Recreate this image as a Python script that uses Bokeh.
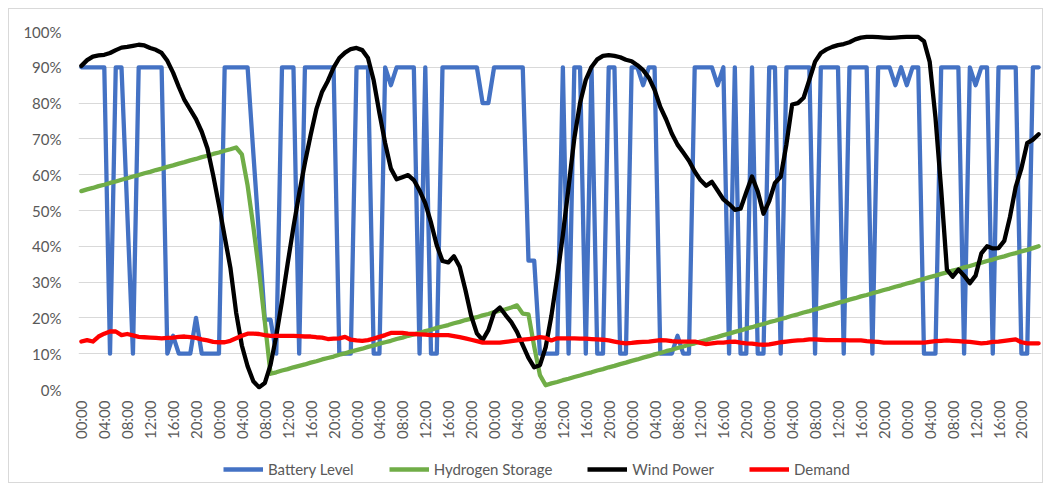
import math
from bokeh.plotting import figure
from bokeh.layouts import column
from bokeh.models import Range1d, FixedTicker, Legend, LegendItem
from bokeh.embed import file_html
from bokeh.resources import INLINE

# ---- data (percent, hourly over one week) ----
day_hours = ["00:00", "01:00", "02:00", "03:00", "04:00", "05:00", "06:00", "07:00",
             "08:00", "09:00", "10:00", "11:00", "12:00", "13:00", "14:00", "15:00",
             "16:00", "17:00", "18:00", "19:00", "20:00", "21:00", "22:00", "23:00"]
time_labels = day_hours * 7

battery_level = [
    90, 90, 90, 90, 90, 10, 90, 90, 50, 10, 90, 90,
    90, 90, 90, 10, 15, 10, 10, 10, 20, 10, 10, 10,
    10, 90, 90, 90, 90, 90, 66, 43, 19.5, 19.5, 10, 90,
    90, 90, 10, 90, 90, 90, 90, 90, 90, 10, 10, 10,
    90, 90, 90, 10, 10, 90, 85, 90, 90, 90, 90, 10,
    90, 10, 10, 90, 90, 90, 90, 90, 90, 90, 80, 80,
    90, 90, 90, 90, 90, 90, 36, 36, 10, 10, 10, 10,
    90, 10, 90, 90, 10, 90, 10, 10, 90, 90, 10, 10,
    90, 90, 85, 90, 90, 10, 10, 10, 15, 10, 10, 90,
    90, 90, 90, 85, 90, 10, 90, 10, 10, 90, 10, 10,
    90, 90, 10, 90, 90, 90, 90, 90, 10, 90, 90, 90,
    90, 10, 90, 90, 90, 90, 10, 90, 90, 90, 85, 90,
    85, 90, 90, 10, 10, 10, 90, 90, 90, 90, 10, 90,
    85, 90, 90, 10, 90, 90, 90, 90, 10, 10, 90, 90,
]

hydrogen_storage = [
    55.4, 55.9, 56.3, 56.8, 57.2, 57.7, 58.1, 58.6, 59.0, 59.5, 59.9, 60.4,
    60.8, 61.3, 61.7, 62.2, 62.6, 63.1, 63.5, 64.0, 64.4, 64.9, 65.3, 65.8,
    66.2, 66.7, 67.1, 67.6, 65.7, 57.0, 45.5, 33.0, 19.0, 4.4, 4.8, 5.3,
    5.7, 6.2, 6.6, 7.0, 7.5, 7.9, 8.4, 8.8, 9.2, 9.7, 10.1, 10.6,
    11.0, 11.4, 11.9, 12.3, 12.8, 13.2, 13.6, 14.1, 14.5, 15.0, 15.4, 15.8,
    16.3, 16.7, 17.2, 17.6, 18.0, 18.5, 18.9, 19.4, 19.8, 20.2, 20.7, 21.1,
    21.6, 22.0, 22.4, 22.9, 23.5, 21.2, 21.0, 12.0, 4.0, 1.2, 1.7, 2.1,
    2.6, 3.0, 3.5, 3.9, 4.4, 4.8, 5.3, 5.7, 6.2, 6.6, 7.1, 7.5,
    8.0, 8.4, 8.9, 9.3, 9.8, 10.2, 10.7, 11.1, 11.6, 12.0, 12.5, 12.9,
    13.4, 13.8, 14.3, 14.7, 15.2, 15.6, 16.1, 16.5, 17.0, 17.4, 17.9, 18.3,
    18.8, 19.2, 19.7, 20.1, 20.6, 21.0, 21.5, 21.9, 22.4, 22.8, 23.3, 23.7,
    24.2, 24.6, 25.1, 25.5, 26.0, 26.4, 26.9, 27.3, 27.8, 28.2, 28.7, 29.1,
    29.6, 30.0, 30.5, 30.9, 31.4, 31.8, 32.3, 32.7, 33.2, 33.6, 34.1, 34.5,
    35.0, 35.4, 35.9, 36.3, 36.8, 37.2, 37.7, 38.1, 38.6, 39.0, 39.5, 40.0,
]

wind_power = [
    90.4, 92.0, 93.0, 93.3, 93.5, 94.0, 94.8, 95.5, 95.7, 96.0, 96.3, 96.1,
    95.4, 94.9, 94.0, 91.8, 88.5, 84.5, 80.8, 78.2, 75.5, 72.0, 67.3, 59.8,
    51.5, 42.7, 34.0, 21.5, 12.3, 6.5, 2.3, 0.6, 1.8, 6.9, 15.0, 24.7,
    35.3, 45.4, 54.7, 63.3, 71.1, 78.3, 83.2, 86.2, 89.9, 92.6, 94.1, 95.1,
    95.4, 94.8, 92.6, 86.3, 77.2, 68.8, 61.7, 58.7, 59.3, 59.9, 58.5, 55.6,
    52.0, 46.6, 40.3, 35.9, 35.5, 37.2, 34.3, 27.8, 20.6, 15.7, 13.8, 16.6,
    21.5, 22.9, 20.8, 18.8, 16.1, 12.4, 8.8, 6.2, 6.8, 11.8, 20.6, 31.3,
    43.2, 56.6, 70.2, 80.0, 86.5, 90.1, 92.2, 93.2, 93.4, 93.2, 92.8, 92.1,
    91.7, 90.6, 89.2, 87.1, 83.7, 78.9, 75.5, 71.5, 68.4, 66.2, 63.9, 60.9,
    58.5, 56.9, 58.0, 55.6, 53.1, 51.8, 50.2, 50.5, 55.1, 59.5, 55.3, 49.1,
    52.6, 57.7, 59.4, 68.5, 79.6, 80.0, 81.5, 86.5, 91.6, 94.0, 95.0, 95.7,
    96.2, 96.5, 97.0, 97.8, 98.3, 98.5, 98.5, 98.4, 98.3, 98.2, 98.3, 98.4,
    98.5, 98.5, 98.5, 97.3, 91.5, 76.0, 55.8, 33.5, 31.5, 33.5, 31.8, 29.7,
    31.8, 38.0, 40.0, 39.4, 39.5, 41.5, 48.2, 56.6, 61.8, 68.8, 69.8, 71.3,
]

demand = [
    13.4, 13.8, 13.4, 14.8, 15.6, 16.2, 16.2, 15.2, 15.5, 15.1, 14.7, 14.6,
    14.5, 14.4, 14.3, 14.4, 14.5, 14.7, 14.8, 14.6, 14.4, 14.0, 13.7, 13.3,
    13.2, 13.2, 13.6, 14.3, 15.0, 15.6, 15.6, 15.5, 15.2, 15.0, 15.0, 15.0,
    15.0, 15.0, 14.9, 14.8, 14.8, 14.6, 14.5, 14.1, 14.2, 14.3, 14.7, 13.9,
    13.7, 13.6, 13.8, 14.2, 14.7, 15.2, 15.8, 15.8, 15.8, 15.6, 15.5, 15.4,
    15.3, 15.2, 15.2, 15.2, 15.2, 14.9, 14.6, 14.3, 13.9, 13.5, 13.1, 13.1,
    13.1, 13.1, 13.3, 13.5, 13.7, 13.9, 14.1, 14.3, 14.6, 14.4, 13.7, 14.3,
    14.3, 14.3, 14.3, 14.2, 14.2, 14.1, 14.0, 13.9, 13.7, 13.4, 13.1, 12.9,
    13.0, 13.2, 13.3, 13.4, 13.6, 13.8, 13.7, 13.5, 13.4, 13.4, 13.4, 13.4,
    13.0, 12.7, 12.9, 13.1, 13.1, 13.3, 13.4, 13.1, 12.9, 12.8, 12.6, 12.5,
    12.6, 12.9, 13.2, 13.4, 13.6, 13.7, 13.8, 14.0, 14.0, 13.9, 13.8, 13.8,
    13.8, 13.8, 13.7, 13.7, 13.7, 13.5, 13.4, 13.3, 13.1, 13.1, 13.1, 13.1,
    13.1, 13.1, 13.1, 13.1, 13.3, 13.5, 13.6, 13.7, 13.6, 13.5, 13.4, 13.3,
    13.1, 12.9, 13.0, 13.3, 13.4, 13.6, 13.8, 14.0, 13.2, 12.9, 12.9, 12.9,
]

y_ticks = [0, 10, 20, 30, 40, 50, 60, 70, 80, 90, 100]
series_names = ["Battery Level", "Hydrogen Storage", "Wind Power", "Demand"]
series_colors = ["#4472C4", "#70AD47", "#000000", "#FF0000"]
series_values = [battery_level, hydrogen_storage, wind_power, demand]

n = len(time_labels)
x = list(range(n))
x_ticks = list(range(0, n, 4))

FONT = "Lato"
TXT = "#595959"
BORDER = "1px solid #d9d9d9"

# ---- main chart ----
p = figure(frame_width=961, frame_height=357, output_backend="svg", toolbar_location=None,
           x_range=Range1d(-0.5, n - 0.5), y_range=Range1d(0, 100),
           min_border_left=69, min_border_right=3, min_border_top=22,
           min_border_bottom=56)
p.styles = {"margin": "8px 0px 0px 8px", "border-top": BORDER,
            "border-left": BORDER, "border-right": BORDER}
p.outline_line_color = None
p.background_fill_color = "white"
p.border_fill_color = "white"

p.xaxis.ticker = FixedTicker(ticks=x_ticks)
p.xaxis.major_label_overrides = {i: time_labels[i] for i in x_ticks}
p.xaxis.major_label_orientation = math.pi / 2
p.yaxis.ticker = FixedTicker(ticks=y_ticks)
p.yaxis.major_label_overrides = {v: f"{v}%" for v in y_ticks}

for ax in (p.xaxis, p.yaxis):
    ax.axis_line_color = None
    ax.major_tick_line_color = None
    ax.minor_tick_line_color = None
    ax.major_tick_out = 0
    ax.major_tick_in = 0
    ax.major_label_text_font = FONT
    ax.major_label_text_font_size = "15px"
    ax.major_label_text_color = TXT
p.yaxis.major_label_standoff = 17
p.xaxis.major_label_standoff = 11

p.xgrid.grid_line_color = None
p.ygrid.ticker = FixedTicker(ticks=y_ticks)
p.ygrid.grid_line_color = "#d9d9d9"
p.ygrid.grid_line_width = 1

for vals, col in zip(series_values, series_colors):
    p.line(x, vals, line_color=col, line_width=4.3, line_join="round", line_cap="round")

# ---- legend strip: same series, viewport placed away from the data so only the key shows ----
q = figure(frame_width=961, frame_height=38, output_backend="svg", toolbar_location=None,
           x_range=Range1d(-0.5, n - 0.5), y_range=Range1d(-200, -199),
           x_axis_location=None, y_axis_location=None,
           min_border=0, min_border_left=69, min_border_right=3)
q.styles = {"margin": "0px 0px 0px 8px", "border-bottom": BORDER,
            "border-left": BORDER, "border-right": BORDER}
q.outline_line_color = None
q.grid.visible = False
q.background_fill_color = "white"
q.border_fill_color = "white"

legend_renderers = [q.line(x, vals, line_color=col, line_width=4.3)
                    for vals, col in zip(series_values, series_colors)]
legend = Legend(items=[LegendItem(label=nm, renderers=[r]) for nm, r in zip(series_names, legend_renderers)],
                orientation="horizontal", location=(145, 5),
                glyph_width=40, glyph_height=18, label_standoff=5, spacing=35,
                padding=0, margin=0, border_line_color=None, background_fill_alpha=0,
                label_text_font=FONT, label_text_font_size="15px", label_text_color=TXT,
                label_height=18)
q.add_layout(legend)

layout = column(p, q, spacing=0)
open("out.html", "w").write(file_html(layout, INLINE))
